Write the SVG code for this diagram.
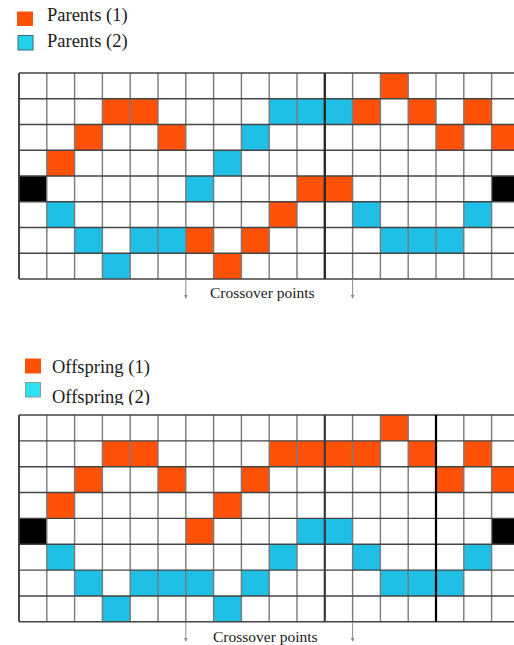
<svg xmlns="http://www.w3.org/2000/svg" width="514" height="645" viewBox="0 0 514 645">
<style>
text{font-family:"Liberation Serif","Times New Roman",serif;fill:#1a1a1a}
.lg{font-size:18.5px}
.cx{font-size:15.5px}
.o{fill:#FF5208}
.c{fill:#1FBFE6}
.k{fill:#000}
.h{stroke:#444;stroke-width:1.4}
.v{stroke:#7a7a7a;stroke-width:1.4}
.arr{stroke:#8a8a8a;stroke-width:1;fill:none}
</style>
<defs>
<marker id="tip" viewBox="0 0 6 6" refX="5" refY="3" markerWidth="4" markerHeight="4" orient="auto" markerUnits="userSpaceOnUse">
<path d="M0,0 L6,3 L0,6 Z" fill="#888"/>
</marker>
<clipPath id="clipOff2"><rect x="0" y="380" width="200" height="25"/></clipPath>
</defs>
<rect width="514" height="645" fill="#fff"/>

<g id="legend-parents">
<rect x="17" y="11.5" width="16" height="14.5" class="o"/>
<text x="47" y="21" class="lg">Parents (1)</text>
<rect x="18" y="35.5" width="15" height="14.5" fill="#22D2EA" stroke="#3a6d78" stroke-width="1"/>
<text x="47" y="46.5" class="lg">Parents (2)</text>
</g>

<g id="grid-parents" transform="translate(19,73)">
<g id="cells-parents">
<rect x="361.4" y="0" width="27.8" height="25.75" class="o"/>
<rect x="83.4" y="25.75" width="27.8" height="25.75" class="o"/>
<rect x="111.2" y="25.75" width="27.8" height="25.75" class="o"/>
<rect x="250.2" y="25.75" width="27.8" height="25.75" class="c"/>
<rect x="278" y="25.75" width="27.8" height="25.75" class="c"/>
<rect x="305.8" y="25.75" width="27.8" height="25.75" class="c"/>
<rect x="333.6" y="25.75" width="27.8" height="25.75" class="o"/>
<rect x="389.2" y="25.75" width="27.8" height="25.75" class="o"/>
<rect x="444.8" y="25.75" width="27.8" height="25.75" class="o"/>
<rect x="55.6" y="51.5" width="27.8" height="25.75" class="o"/>
<rect x="139" y="51.5" width="27.8" height="25.75" class="o"/>
<rect x="222.4" y="51.5" width="27.8" height="25.75" class="c"/>
<rect x="417" y="51.5" width="27.8" height="25.75" class="o"/>
<rect x="472.6" y="51.5" width="27.8" height="25.75" class="o"/>
<rect x="27.8" y="77.25" width="27.8" height="25.75" class="o"/>
<rect x="194.6" y="77.25" width="27.8" height="25.75" class="c"/>
<rect x="0" y="103" width="27.8" height="25.75" class="k"/>
<rect x="166.8" y="103" width="27.8" height="25.75" class="c"/>
<rect x="278" y="103" width="27.8" height="25.75" class="o"/>
<rect x="305.8" y="103" width="27.8" height="25.75" class="o"/>
<rect x="472.6" y="103" width="27.8" height="25.75" class="k"/>
<rect x="27.8" y="128.75" width="27.8" height="25.75" class="c"/>
<rect x="250.2" y="128.75" width="27.8" height="25.75" class="o"/>
<rect x="333.6" y="128.75" width="27.8" height="25.75" class="c"/>
<rect x="444.8" y="128.75" width="27.8" height="25.75" class="c"/>
<rect x="55.6" y="154.5" width="27.8" height="25.75" class="c"/>
<rect x="111.2" y="154.5" width="27.8" height="25.75" class="c"/>
<rect x="139" y="154.5" width="27.8" height="25.75" class="c"/>
<rect x="166.8" y="154.5" width="27.8" height="25.75" class="o"/>
<rect x="222.4" y="154.5" width="27.8" height="25.75" class="o"/>
<rect x="361.4" y="154.5" width="27.8" height="25.75" class="c"/>
<rect x="389.2" y="154.5" width="27.8" height="25.75" class="c"/>
<rect x="417" y="154.5" width="27.8" height="25.75" class="c"/>
<rect x="83.4" y="180.25" width="27.8" height="25.75" class="c"/>
<rect x="194.6" y="180.25" width="27.8" height="25.75" class="o"/>
</g>
<g id="lines-parents">
<path class="v" d="M0,0V206 M27.8,0V206 M55.6,0V206 M83.4,0V206 M111.2,0V206 M139,0V206 M166.8,0V206 M194.6,0V206 M222.4,0V206 M250.2,0V206 M278,0V206 M333.6,0V206 M361.4,0V206 M389.2,0V206 M417,0V206 M444.8,0V206 M472.6,0V206"/>
<path class="h" d="M0,0H500 M0,25.75H500 M0,51.5H500 M0,77.25H500 M0,103H500 M0,128.75H500 M0,154.5H500 M0,180.25H500 M0,206H500"/>
<path d="M305.8,0V206" stroke="#2a2a2a" stroke-width="2.4"/>
<path d="M0,0V206" stroke="#333" stroke-width="1.6"/>
</g>
</g>

<g id="crossover-parents">
<path class="arr" d="M185.8,279V298" marker-end="url(#tip)"/>
<path class="arr" d="M352.6,279V298" marker-end="url(#tip)"/>
<text x="210" y="297.5" class="cx">Crossover points</text>
</g>

<g id="legend-offspring">
<rect x="25" y="358.5" width="16" height="15" class="o"/>
<text x="52" y="373" class="lg">Offspring (1)</text>
<rect x="25.5" y="382.5" width="15" height="14.5" fill="#2DE3F2" stroke="#8a9a9c" stroke-width="1"/>
<text x="52" y="403" class="lg" clip-path="url(#clipOff2)">Offspring (2)</text>
</g>

<g id="grid-offspring" transform="translate(19,415)">
<g id="cells-offspring">
<rect x="361.4" y="0" width="27.8" height="25.85" class="o"/>
<rect x="83.4" y="25.85" width="27.8" height="25.85" class="o"/>
<rect x="111.2" y="25.85" width="27.8" height="25.85" class="o"/>
<rect x="250.2" y="25.85" width="27.8" height="25.85" class="o"/>
<rect x="278" y="25.85" width="27.8" height="25.85" class="o"/>
<rect x="305.8" y="25.85" width="27.8" height="25.85" class="o"/>
<rect x="333.6" y="25.85" width="27.8" height="25.85" class="o"/>
<rect x="389.2" y="25.85" width="27.8" height="25.85" class="o"/>
<rect x="444.8" y="25.85" width="27.8" height="25.85" class="o"/>
<rect x="55.6" y="51.7" width="27.8" height="25.85" class="o"/>
<rect x="139" y="51.7" width="27.8" height="25.85" class="o"/>
<rect x="222.4" y="51.7" width="27.8" height="25.85" class="o"/>
<rect x="417" y="51.7" width="27.8" height="25.85" class="o"/>
<rect x="472.6" y="51.7" width="27.8" height="25.85" class="o"/>
<rect x="27.8" y="77.55" width="27.8" height="25.85" class="o"/>
<rect x="194.6" y="77.55" width="27.8" height="25.85" class="o"/>
<rect x="0" y="103.4" width="27.8" height="25.85" class="k"/>
<rect x="166.8" y="103.4" width="27.8" height="25.85" class="o"/>
<rect x="278" y="103.4" width="27.8" height="25.85" class="c"/>
<rect x="305.8" y="103.4" width="27.8" height="25.85" class="c"/>
<rect x="472.6" y="103.4" width="27.8" height="25.85" class="k"/>
<rect x="27.8" y="129.25" width="27.8" height="25.85" class="c"/>
<rect x="250.2" y="129.25" width="27.8" height="25.85" class="c"/>
<rect x="333.6" y="129.25" width="27.8" height="25.85" class="c"/>
<rect x="444.8" y="129.25" width="27.8" height="25.85" class="c"/>
<rect x="55.6" y="155.1" width="27.8" height="25.85" class="c"/>
<rect x="111.2" y="155.1" width="27.8" height="25.85" class="c"/>
<rect x="139" y="155.1" width="27.8" height="25.85" class="c"/>
<rect x="166.8" y="155.1" width="27.8" height="25.85" class="c"/>
<rect x="222.4" y="155.1" width="27.8" height="25.85" class="c"/>
<rect x="361.4" y="155.1" width="27.8" height="25.85" class="c"/>
<rect x="389.2" y="155.1" width="27.8" height="25.85" class="c"/>
<rect x="417" y="155.1" width="27.8" height="25.85" class="c"/>
<rect x="83.4" y="180.95" width="27.8" height="25.85" class="c"/>
<rect x="194.6" y="180.95" width="27.8" height="25.85" class="c"/>
</g>
<g id="lines-offspring">
<path class="v" d="M0,0V206.8 M27.8,0V206.8 M55.6,0V206.8 M83.4,0V206.8 M111.2,0V206.8 M139,0V206.8 M166.8,0V206.8 M194.6,0V206.8 M222.4,0V206.8 M250.2,0V206.8 M278,0V206.8 M333.6,0V206.8 M361.4,0V206.8 M389.2,0V206.8 M444.8,0V206.8 M472.6,0V206.8"/>
<path class="h" d="M0,0H500 M0,25.85H500 M0,51.7H500 M0,77.55H500 M0,103.4H500 M0,129.25H500 M0,155.1H500 M0,180.95H500 M0,206.8H500"/>
<path d="M305.8,0V206.8" stroke="#3a3a3a" stroke-width="2.2"/>
<path d="M417,0V206.8" stroke="#000" stroke-width="2.2"/>
<path d="M0,0V206.8" stroke="#333" stroke-width="1.6"/>
</g>
</g>

<g id="crossover-offspring">
<path class="arr" d="M185.8,621.8V641" marker-end="url(#tip)"/>
<path class="arr" d="M352.6,621.8V641" marker-end="url(#tip)"/>
<text x="213" y="641.5" class="cx">Crossover points</text>
</g>
</svg>
